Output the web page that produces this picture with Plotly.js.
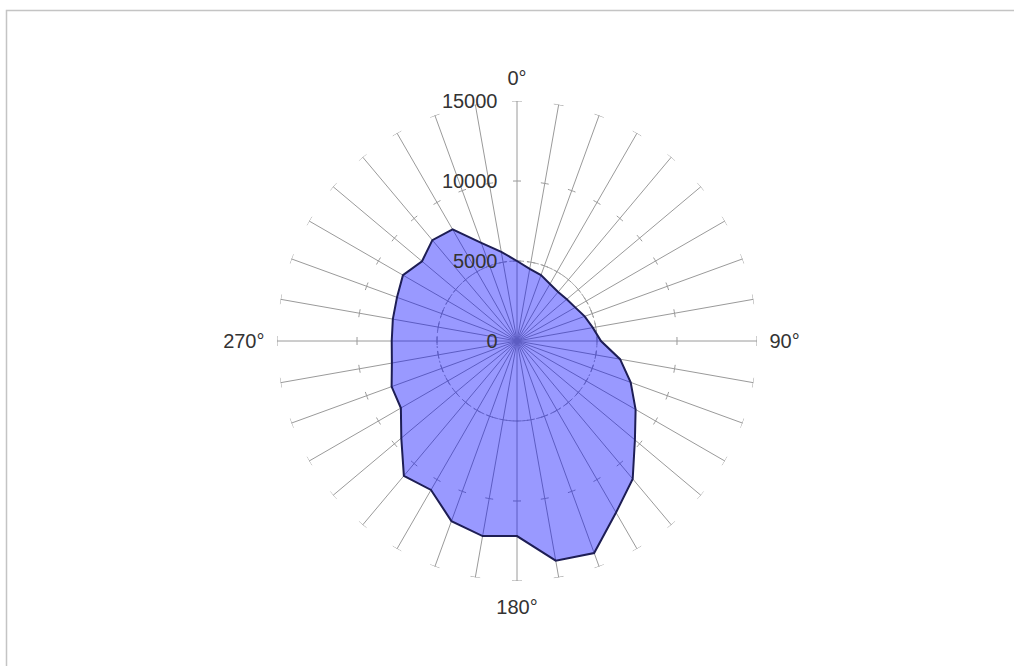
<!DOCTYPE html>
<html>
<head>
<meta charset="utf-8">
<script src="https://cdn.plot.ly/plotly-3.0.1.min.js"></script>
<style>html,body{margin:0;padding:0;background:#fff;}#chart{width:1014px;height:666px;}</style>
</head>
<body>
<div id="chart"></div>
<script>
// Direction (degrees, clockwise from north)
const directions = [0,10,20,30,40,50,60,70,80,90,100,110,120,130,140,150,160,170,
                    180,190,200,210,220,230,240,250,260,270,280,290,300,310,320,330,340,350];
// Values
const values = [5000,4580,4380,4120,4000,4060,4200,4500,4810,5250,6540,7560,8560,9620,11250,12380,14100,13940,
                12190,12380,11980,10750,11000,9440,8380,8340,7940,7830,7880,7980,8230,7750,8230,8050,6530,5660];
// Angular tick labels (only the four cardinal ones are shown)
const angleLabels = directions.map(d => (d % 90 === 0 ? d + '°' : ''));
// Radial ticks
const radialTicks = [0, 5000, 10000, 15000];
const radialMax = 15000;
const dashedRing = 5000;

// geometry of the polar area (pixels)
const R_PX = 240;

// small perpendicular tick marks on every spoke (at 5000, 10000) and end caps at 15000
function spokeTicks() {
  const th = [], rr = [];
  directions.forEach(d => {
    [5000, 10000, 15000].forEach(v => {
      const halfPx = v === radialMax ? 5 : 4;
      const rpx = v / radialMax * R_PX;
      const hDeg = halfPx / rpx * 180 / Math.PI;
      const n = 4;
      for (let i = 0; i <= n; i++) {
        th.push(d - hDeg + 2 * hDeg * i / n);
        rr.push(v);
      }
      th.push(null); rr.push(null);
    });
  });
  return {th, rr};
}
const tk = spokeTicks();
const ringTheta = [];
for (let a = 0; a <= 360; a += 1) ringTheta.push(a);

const data = [
  {
    type: 'scatterpolar', mode: 'lines',
    r: tk.rr, theta: tk.th,
    line: {color: '#9a9a9a', width: 1},
    hoverinfo: 'skip', showlegend: false, connectgaps: false
  },
  {
    type: 'scatterpolar', mode: 'lines',
    r: ringTheta.map(() => dashedRing), theta: ringTheta,
    line: {color: '#9a9a9a', width: 1, dash: '7px,3px,2px,3px'},
    hoverinfo: 'skip', showlegend: false
  },
  {
    type: 'scatterpolar', mode: 'lines',
    r: values.concat([values[0]]),
    theta: directions.concat([directions[0]]),
    fill: 'toself',
    fillcolor: 'rgba(0,0,255,0.4)',
    line: {color: '#1e1e55', width: 2},
    showlegend: false
  }
];

const cx = 517, cy = 341, W = 1014, H = 666;
const layout = {
  width: W, height: H,
  margin: {l: 0, r: 0, t: 0, b: 0},
  paper_bgcolor: '#ffffff',
  font: {family: 'Liberation Sans, Arial, sans-serif', size: 20, color: '#333'},
  showlegend: false,
  polar: {
    domain: {x: [(cx - R_PX) / W, (cx + R_PX) / W], y: [(H - cy - R_PX) / H, (H - cy + R_PX) / H]},
    bgcolor: 'rgba(0,0,0,0)',
    angularaxis: {
      direction: 'clockwise', rotation: 90,
      tickmode: 'array', tickvals: directions, ticktext: angleLabels,
      showgrid: true, gridcolor: '#9a9a9a', gridwidth: 1,
      showline: false, ticks: 'outside', ticklen: 8, tickcolor: 'rgba(0,0,0,0)',
      tickfont: {size: 20, color: '#333'}
    },
    radialaxis: {
      range: [0, radialMax], angle: 90,
      tickmode: 'array', tickvals: radialTicks, ticktext: radialTicks.map(String),
      showgrid: false, showline: false,
      ticks: 'outside', ticklen: 12, tickcolor: 'rgba(0,0,0,0)',
      tickangle: 90,
      side: 'counterclockwise',
      tickfont: {size: 20, color: '#333'}
    }
  },
  shapes: [{
    type: 'rect', xref: 'paper', yref: 'paper',
    x0: 6.5 / W, x1: 1.02, y0: -0.02, y1: 1 - 10.5 / H,
    line: {color: '#c4c4c4', width: 1.5}
  }]
};

Plotly.newPlot('chart', data, layout, {staticPlot: true, displayModeBar: false});
</script>
</body>
</html>
